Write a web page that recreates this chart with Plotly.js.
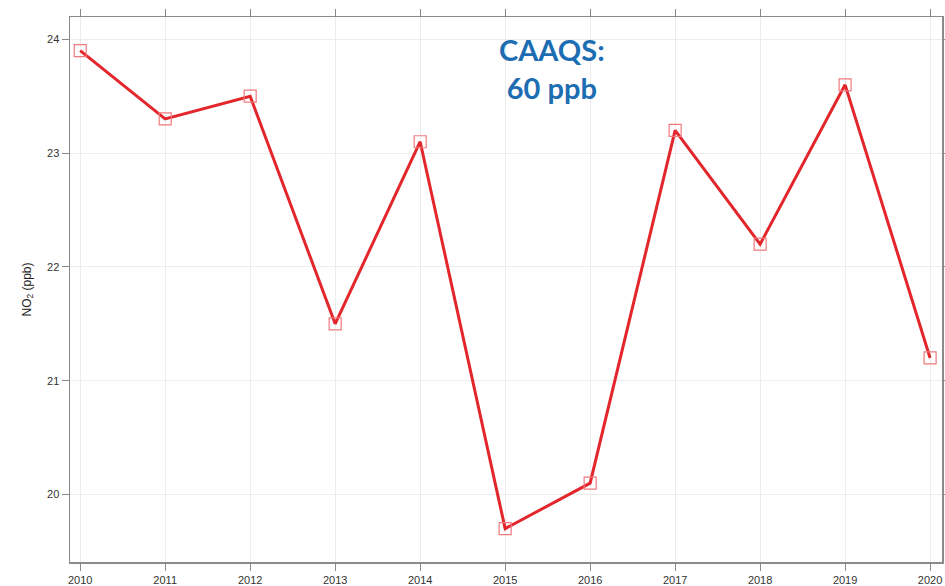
<!DOCTYPE html>
<html>
<head>
<meta charset="utf-8">
<script src="https://cdn.plot.ly/plotly-3.0.1.min.js"></script>
<style>html,body{margin:0;padding:0;background:#fff;}#chart{width:945px;height:586px;}</style>
</head>
<body>
<div id="chart"></div>
<script>
const years = [2010, 2011, 2012, 2013, 2014, 2015, 2016, 2017, 2018, 2019, 2020];
const no2 = [23.9, 23.3, 23.5, 21.5, 23.1, 19.7, 20.1, 23.2, 22.2, 23.6, 21.2];
const yTicks = [20, 21, 22, 23, 24];

const traces = [
  {
    x: years, y: no2, type: 'scatter', mode: 'lines',
    line: {color: '#e3262b', width: 3},
    hoverinfo: 'skip', showlegend: false
  },
  {
    x: years, y: no2, type: 'scatter', mode: 'markers',
    marker: {symbol: 'square-open', size: 12, color: '#f07a7e', line: {width: 1.2, color: '#f07a7e'}},
    showlegend: false
  }
];

const axisCommon = {
  showline: true, linecolor: '#8a8a8a', linewidth: 1.5, mirror: 'ticks',
  ticks: 'outside', ticklen: 7, tickcolor: '#8a8a8a', tickwidth: 1,
  showgrid: true, gridcolor: '#ececec', gridwidth: 1, zeroline: false,
  tickfont: {family: 'Liberation Sans, Arial, sans-serif', size: 11, color: '#333'}
};

const layout = {
  width: 945, height: 586,
  margin: {l: 70, r: 3, t: 17, b: 24},
  paper_bgcolor: '#fff', plot_bgcolor: '#fff',
  xaxis: Object.assign({}, axisCommon, {
    range: [2009.88, 2020.14], tickmode: 'array', tickvals: years, ticktext: years.map(String)
  }),
  yaxis: Object.assign({}, axisCommon, {
    range: [19.407, 24.196], tickmode: 'array', tickvals: yTicks, ticktext: yTicks.map(String),
    title: {text: 'NO<sub>2</sub> (ppb)', standoff: 13, font: {family: 'Liberation Sans, Arial, sans-serif', size: 12, color: '#222'}}
  }),
  annotations: [
    {
      xref: 'paper', yref: 'paper', x: 0.553, y: 0.905, xanchor: 'center', yanchor: 'middle',
      text: 'CAAQS:<br>60 ppb', showarrow: false, align: 'center',
      font: {family: 'Lato, Open Sans, sans-serif', size: 29, color: '#1d6db3', weight: 'bold'}
    }
  ]
};

Plotly.newPlot('chart', traces, layout, {displayModeBar: false, staticPlot: true});
</script>
</body>
</html>
